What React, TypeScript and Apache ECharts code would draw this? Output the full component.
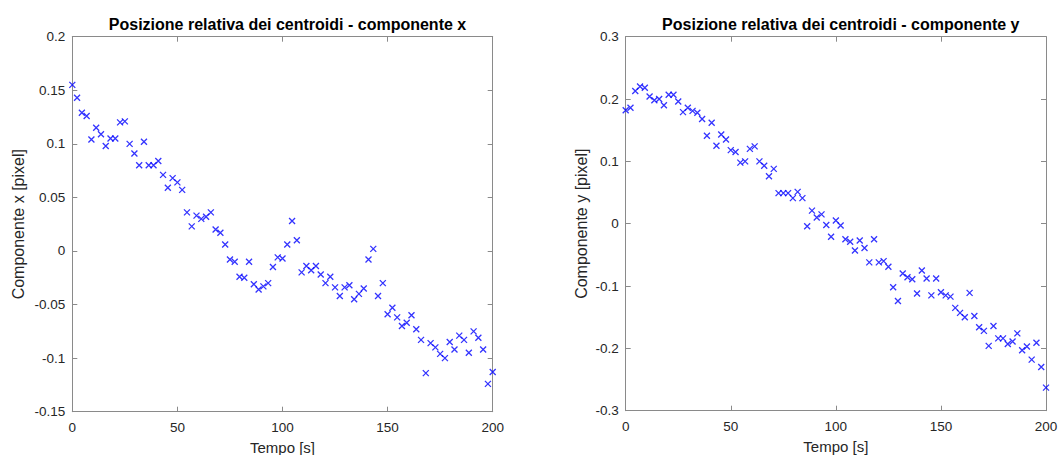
import React, { useEffect, useRef } from "react";
import * as echarts from "echarts";

const times = [
  0, 2.27, 4.55, 6.82, 9.09, 11.36, 13.64, 15.91, 18.18, 20.45, 22.73,
  25, 27.27, 29.55, 31.82, 34.09, 36.36, 38.64, 40.91, 43.18, 45.45, 47.73,
  50, 52.27, 54.55, 56.82, 59.09, 61.36, 63.64, 65.91, 68.18, 70.45, 72.73,
  75, 77.27, 79.55, 81.82, 84.09, 86.36, 88.64, 90.91, 93.18, 95.45, 97.73,
  100, 102.27, 104.55, 106.82, 109.09, 111.36, 113.64, 115.91, 118.18, 120.45, 122.73,
  125, 127.27, 129.55, 131.82, 134.09, 136.36, 138.64, 140.91, 143.18, 145.45, 147.73,
  150, 152.27, 154.55, 156.82, 159.09, 161.36, 163.64, 165.91, 168.18, 170.45, 172.73,
  175, 177.27, 179.55, 181.82, 184.09, 186.36, 188.64, 190.91, 193.18, 195.45, 197.73,
  200,
];

const compX = [
  0.155, 0.143, 0.129, 0.126, 0.104, 0.115, 0.109, 0.098, 0.105, 0.105,
  0.120, 0.121, 0.100, 0.091, 0.080, 0.102, 0.080, 0.080, 0.084, 0.071,
  0.059, 0.068, 0.064, 0.057, 0.036, 0.023, 0.033, 0.030, 0.032, 0.036,
  0.020, 0.017, 0.006, -0.008, -0.010, -0.024, -0.025, -0.010, -0.031, -0.036,
  -0.033, -0.030, -0.015, -0.006, -0.007, 0.006, 0.028, 0.010, -0.020, -0.014,
  -0.018, -0.014, -0.022, -0.030, -0.024, -0.034, -0.042, -0.034, -0.032, -0.045,
  -0.040, -0.035, -0.008, 0.002, -0.042, -0.030, -0.059, -0.053, -0.062, -0.070,
  -0.067, -0.060, -0.073, -0.083, -0.114, -0.086, -0.090, -0.096, -0.100, -0.085,
  -0.092, -0.079, -0.083, -0.095, -0.075, -0.081, -0.092, -0.124, -0.113,
];

const compY = [
  0.182, 0.186, 0.213, 0.220, 0.218, 0.204, 0.198, 0.200, 0.190, 0.207,
  0.207, 0.196, 0.179, 0.186, 0.181, 0.178, 0.168, 0.141, 0.162, 0.125,
  0.143, 0.135, 0.118, 0.115, 0.098, 0.100, 0.120, 0.124, 0.100, 0.093,
  0.076, 0.088, 0.049, 0.049, 0.049, 0.041, 0.051, 0.041, -0.004, 0.021,
  0.010, 0.015, -0.002, -0.021, 0.005, -0.003, -0.025, -0.029, -0.043, -0.027,
  -0.039, -0.062, -0.025, -0.062, -0.060, -0.069, -0.102, -0.124, -0.080, -0.086,
  -0.089, -0.112, -0.075, -0.088, -0.115, -0.088, -0.110, -0.115, -0.117, -0.135,
  -0.143, -0.150, -0.111, -0.148, -0.166, -0.172, -0.196, -0.164, -0.184, -0.184,
  -0.193, -0.189, -0.176, -0.203, -0.197, -0.218, -0.191, -0.230, -0.263,
];

const xTicks = { min: 0, max: 200, interval: 50 };
const yTicksX = { min: -0.15, max: 0.2, interval: 0.05 };
const yTicksY = { min: -0.3, max: 0.3, interval: 0.1 };

const titleX = "Posizione relativa dei centroidi - componente x";
const titleY = "Posizione relativa dei centroidi - componente y";
const xName = "Tempo [s]";
const yNameX = "Componente x [pixel]";
const yNameY = "Componente y [pixel]";

const FONT = "'Liberation Sans', Arial, Helvetica, sans-serif";
const AXIS_COLOR = "#8a8a8a";
const TEXT_COLOR = "#262626";

const fmt = (v: number) => String(Number(v.toFixed(3)));

function axisBase(showLabel: boolean, margin: number) {
  return {
    type: "value" as const,
    axisLine: { show: true, onZero: false, lineStyle: { color: AXIS_COLOR, width: 1 } },
    axisTick: { show: true, inside: true, length: 5, lineStyle: { color: AXIS_COLOR } },
    splitLine: { show: false },
    axisLabel: {
      show: showLabel,
      color: TEXT_COLOR,
      fontFamily: FONT,
      fontSize: 13.5,
      margin,
      formatter: fmt,
    },
  };
}

export default function App() {
  const ref = useRef<HTMLDivElement>(null);

  useEffect(() => {
    if (!ref.current) return;
    const chart = echarts.init(ref.current, null, { renderer: "svg" });
    const grids = [
      { left: 72.3, top: 36.7, width: 420.4, height: 375, containLabel: false, outerBoundsMode: "none" },
      { left: 625.7, top: 36.7, width: 420.3, height: 374, containLabel: false, outerBoundsMode: "none" },
    ];
    const xAxes: any[] = [];
    const yAxes: any[] = [];
    const yRanges = [yTicksX, yTicksY];
    const yNames = [yNameX, yNameY];
    const yGaps = [46, 36];
    for (let g = 0; g < 2; g++) {
      xAxes.push({
        ...axisBase(true, 9),
        gridIndex: g,
        position: "bottom",
        ...xTicks,
        name: xName,
        nameLocation: "middle",
        nameGap: 27,
        nameTextStyle: { color: TEXT_COLOR, fontFamily: FONT, fontSize: 15 },
      });
      xAxes.push({
        ...axisBase(false, 9),
        gridIndex: g,
        position: "top",
        ...xTicks,
      });
      yAxes.push({
        ...axisBase(true, 7),
        gridIndex: g,
        position: "left",
        ...yRanges[g],
        name: yNames[g],
        nameLocation: "middle",
        nameGap: yGaps[g],
        nameTextStyle: { color: TEXT_COLOR, fontFamily: FONT, fontSize: 16 },
      });
      yAxes.push({
        ...axisBase(false, 7),
        gridIndex: g,
        position: "right",
        ...yRanges[g],
      });
    }
    const marker = "path://M0,0L10,10M10,0L0,10";
    const mk = (vals: number[]) => times.map((t, i) => [t, vals[i]]);
    chart.setOption({
      animation: false,
      backgroundColor: "#ffffff",
      title: [
        {
          text: titleX,
          left: 282.5,
          top: 11,
          textAlign: "center",
          textStyle: { color: "#000", fontFamily: FONT, fontSize: 16, fontWeight: "bold" },
        },
        {
          text: titleY,
          left: 835.8,
          top: 11,
          textAlign: "center",
          textStyle: { color: "#000", fontFamily: FONT, fontSize: 16, fontWeight: "bold" },
        },
      ],
      grid: grids,
      xAxis: xAxes,
      yAxis: yAxes,
      series: [
        {
          type: "scatter",
          xAxisIndex: 0,
          yAxisIndex: 0,
          data: mk(compX),
          symbol: marker,
          symbolSize: 6,
          itemStyle: { color: "rgba(0,0,0,0)", borderColor: "#0000ff", borderWidth: 1.3 },
        },
        {
          type: "scatter",
          xAxisIndex: 2,
          yAxisIndex: 2,
          data: mk(compY),
          symbol: marker,
          symbolSize: 6,
          itemStyle: { color: "rgba(0,0,0,0)", borderColor: "#0000ff", borderWidth: 1.3 },
        },
      ],
    });
    return () => chart.dispose();
  }, []);

  return (
    <div
      ref={ref}
      style={{ position: "absolute", left: 0, top: 0, width: 1058, height: 455, background: "#fff" }}
    />
  );
}
